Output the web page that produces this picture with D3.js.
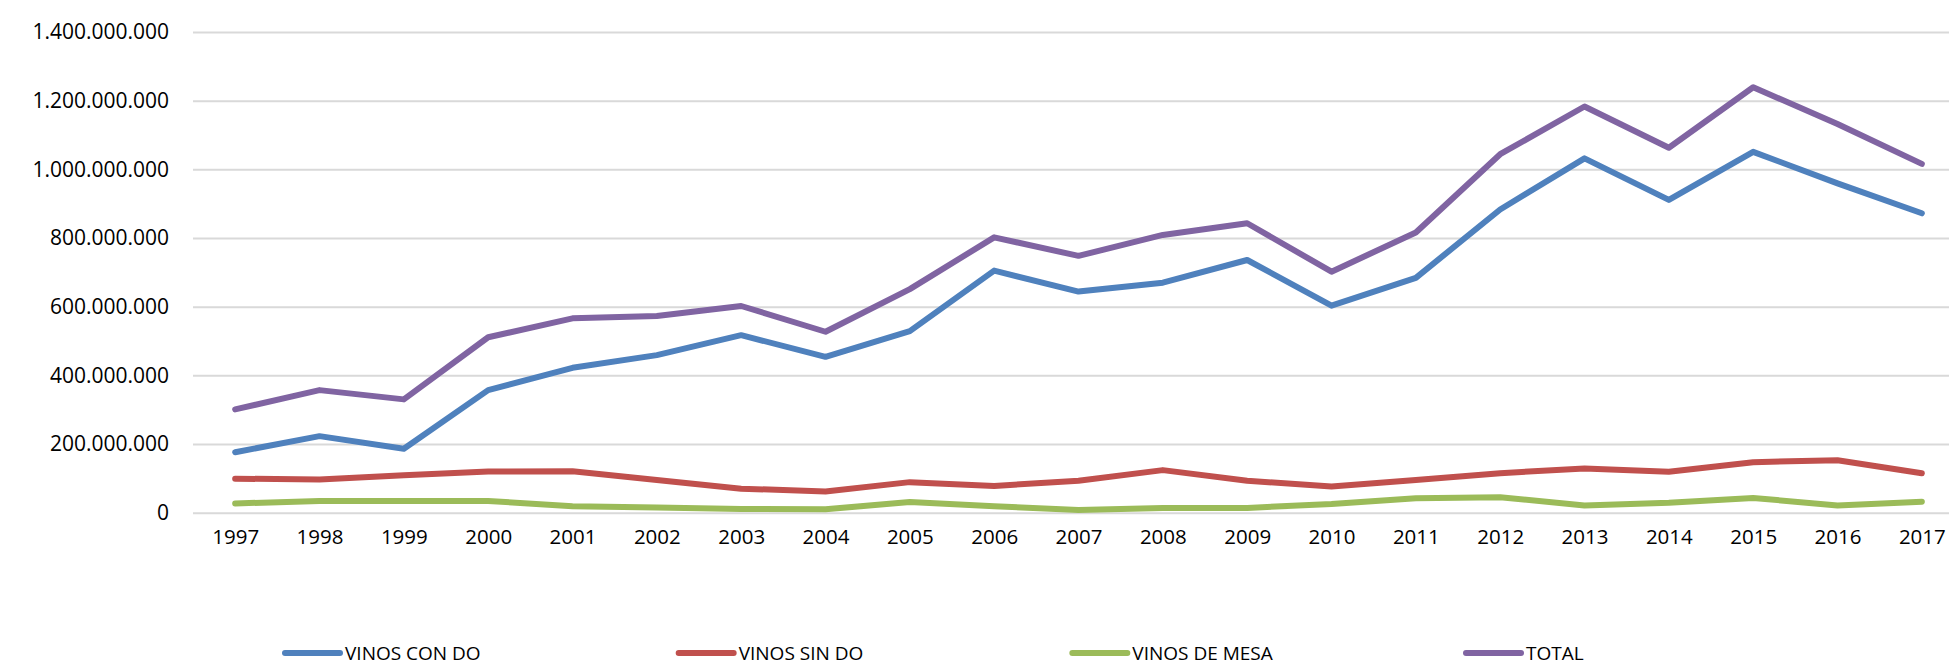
<!DOCTYPE html>
<html>
<head>
<meta charset="utf-8">
<script src="https://cdn.jsdelivr.net/npm/d3@7"></script>
<style>
  html, body { margin: 0; padding: 0; background: #fff; }
  svg { display: block; }
  .tick text { font-family: "Open Sans", sans-serif; fill: #000; }
  .legend text { font-family: "Open Sans", sans-serif; fill: #000; }
</style>
</head>
<body>
<div id="chart"></div>
<script>
// years on the category axis
const years = ["1997","1998","1999","2000","2001","2002","2003","2004","2005","2006","2007",
               "2008","2009","2010","2011","2012","2013","2014","2015","2016","2017"];

// series values
const vinosConDo = [176e6,223e6,186e6,357e6,422e6,459e6,517e6,454e6,529e6,705e6,644e6,
                    670e6,736e6,603e6,684e6,883e6,1032e6,911e6,1051e6,959e6,872e6];
const vinosSinDo = [99e6,97e6,109e6,120e6,121e6,95e6,70e6,62e6,89e6,78e6,93e6,
                    124e6,93e6,76e6,95e6,115e6,129e6,119e6,147e6,153e6,115e6];
const vinosDeMesa = [27e6,34e6,34e6,34e6,19e6,15e6,11e6,10e6,31e6,19e6,8e6,
                     14e6,14e6,25e6,42e6,45e6,21e6,29e6,43e6,21e6,32e6];
const total = [301e6,357e6,330e6,511e6,566e6,573e6,602e6,527e6,651e6,802e6,748e6,
               809e6,843e6,702e6,816e6,1044e6,1183e6,1063e6,1239e6,1132e6,1016e6];

const yTicks = [0,200e6,400e6,600e6,800e6,1000e6,1200e6,1400e6];
const seriesNames = ["VINOS CON DO","VINOS SIN DO","VINOS DE MESA","TOTAL"];
const seriesColors = ["#4F81BD","#C0504D","#9BBB59","#8064A2"];

const series = [vinosConDo, vinosSinDo, vinosDeMesa, total].map((v, i) => ({
    name: seriesNames[i], color: seriesColors[i], values: v
}));

const width = 1949, height = 667;
const svg = d3.select("#chart").append("svg")
    .attr("width", width).attr("height", height);

const x = d3.scalePoint().domain(years).range([193, 1964]).padding(0.5);
const y = d3.scaleLinear().domain([0, 1400e6]).range([512.7, 32]);

const es = d3.formatLocale({decimal: ",", thousands: ".", grouping: [3], currency: ["", ""]});
const fmt = es.format(",d");

// gridlines + y labels
const yAxis = svg.append("g")
    .attr("transform", "translate(193,0)")
    .call(d3.axisLeft(y).tickValues(yTicks).tickFormat(fmt).tickSize(0).tickPadding(24));
yAxis.select(".domain").remove();
yAxis.selectAll(".tick line")
    .attr("x2", width - 193)
    .attr("stroke", "#D9D9D9")
    .attr("stroke-width", 2);
yAxis.selectAll(".tick text").style("font-size", "21px");

// category labels
const xAxis = svg.append("g")
    .attr("transform", `translate(0,${y(0)})`)
    .call(d3.axisBottom(x).tickSize(0).tickPadding(17));
xAxis.select(".domain").remove();
xAxis.selectAll(".tick text").style("font-size", "20.5px");

// lines
const line = d3.line()
    .x((d, i) => x(years[i]))
    .y(d => y(d));

svg.append("g").selectAll("path")
    .data(series)
    .join("path")
    .attr("d", d => line(d.values))
    .attr("fill", "none")
    .attr("stroke", d => d.color)
    .attr("stroke-width", 6)
    .attr("stroke-linejoin", "round")
    .attr("stroke-linecap", "round");

// legend
const lx = d3.scaleLinear().domain([0, 3]).range([285, 1466]);
const legend = svg.append("g").attr("class", "legend")
    .selectAll("g")
    .data(series)
    .join("g")
    .attr("transform", (d, i) => `translate(${lx(i)},653)`);
legend.append("line")
    .attr("x1", 0).attr("x2", 55)
    .attr("stroke", d => d.color)
    .attr("stroke-width", 6)
    .attr("stroke-linecap", "round");
legend.append("text")
    .attr("x", 60)
    .attr("dy", "0.35em")
    .style("font-size", "19px")
    .text(d => d.name);
</script>
</body>
</html>
